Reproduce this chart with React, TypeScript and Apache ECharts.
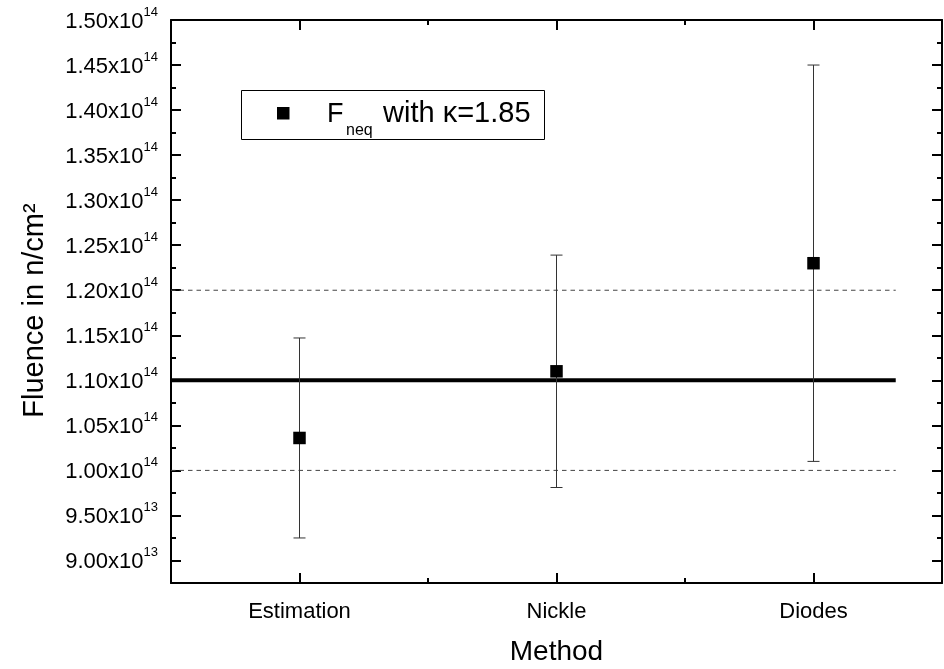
import React, { useEffect, useRef } from "react";
import * as echarts from "echarts";

// ---- data ----
const methods = ["Estimation", "Nickle", "Diodes"];
const methodPositions = [1, 2, 3];
const fluence = [1.036e14, 1.11e14, 1.23e14];
const fluenceErr = [1.11e13, 1.29e13, 2.2e13];

const refCentral = 1.1e14;
const refUpper = 1.2e14;
const refLower = 1.0e14;
const refSpan = [0.5, 3.32];

const yMajorTicks = [9.0e13, 9.5e13, 1.0e14, 1.05e14, 1.1e14, 1.15e14, 1.2e14, 1.25e14, 1.3e14, 1.35e14, 1.4e14, 1.45e14, 1.5e14];
const yMinorTicks = [9.25e13, 9.75e13, 1.025e14, 1.075e14, 1.125e14, 1.175e14, 1.225e14, 1.275e14, 1.325e14, 1.375e14, 1.425e14, 1.475e14];
const xMajorTicks = [1, 2, 3];
const xMinorTicks = [1.5, 2.5];
const xRange = [0.5, 3.5];
const yRange = [8.75e13, 1.5e14];

const FONT = "'Liberation Sans', Arial, Helvetica, sans-serif";

function sciLabel(v: number): string {
  const e = Math.floor(Math.log10(v) + 1e-9);
  const m = (v / Math.pow(10, e)).toFixed(2);
  return `{m|${m}x10}{s|${e}}`;
}

export default function App() {
  const ref = useRef<HTMLDivElement>(null);
  useEffect(() => {
    if (!ref.current) return;
    const chart = echarts.init(ref.current, null, { renderer: "svg" });

    const axisLineStyle = { color: "#000", width: 2 };
    const baseX = {
      type: "value",
      min: xRange[0],
      max: xRange[1],
      splitLine: { show: false },
    };
    const baseY = {
      type: "value",
      min: yRange[0],
      max: yRange[1],
      splitLine: { show: false },
    };

    const points = methodPositions.map((x, i) => [x, fluence[i]]);
    const errs = methodPositions.map((x, i) => [x, fluence[i] - fluenceErr[i], fluence[i] + fluenceErr[i]]);

    chart.setOption({
      animation: false,
      textStyle: { fontFamily: FONT },
      grid: { left: 171, top: 20, right: 2, bottom: 78, containLabel: false },
      xAxis: [
        {
          ...baseX,
          position: "bottom",
          name: "Method",
          nameLocation: "middle",
          nameGap: 53,
          nameTextStyle: { fontSize: 28, color: "#000", fontFamily: FONT },
          axisLine: { show: true, lineStyle: axisLineStyle },
          axisTick: { show: true, inside: true, length: 10, lineStyle: { color: "#000", width: 2 }, customValues: xMajorTicks },
          axisLabel: {
            show: true,
            margin: 16,
            fontSize: 22,
            color: "#000",
            fontFamily: FONT,
            customValues: xMajorTicks,
            formatter: (v: number) => methods[methodPositions.indexOf(Math.round(v))] ?? "",
          },
        },
        {
          ...baseX,
          position: "bottom",
          axisLine: { show: false },
          axisTick: { show: true, inside: true, length: 5, lineStyle: { color: "#000", width: 2 }, customValues: xMinorTicks },
          axisLabel: { show: false },
        },
        {
          ...baseX,
          position: "top",
          axisLine: { show: true, lineStyle: axisLineStyle },
          axisTick: { show: true, inside: true, length: 10, lineStyle: { color: "#000", width: 2 }, customValues: xMajorTicks },
          axisLabel: { show: false },
        },
        {
          ...baseX,
          position: "top",
          axisLine: { show: false },
          axisTick: { show: true, inside: true, length: 5, lineStyle: { color: "#000", width: 2 }, customValues: xMinorTicks },
          axisLabel: { show: false },
        },
      ],
      yAxis: [
        {
          ...baseY,
          position: "left",
          name: "Fluence in n/cm²",
          nameLocation: "middle",
          nameGap: 124,
          nameRotate: 90,
          nameTextStyle: { fontSize: 29, color: "#000", fontFamily: FONT, padding: [0, 18, 0, 0] },
          axisLine: { show: true, lineStyle: axisLineStyle },
          axisTick: { show: true, inside: true, length: 10, lineStyle: { color: "#000", width: 2 }, customValues: yMajorTicks },
          axisLabel: {
            show: true,
            margin: 13,
            color: "#000",
            fontFamily: FONT,
            customValues: yMajorTicks,
            formatter: (v: number) => sciLabel(v),
            rich: {
              m: { fontSize: 22, color: "#000", fontFamily: FONT, lineHeight: 30 },
              s: { fontSize: 13, color: "#000", fontFamily: FONT, lineHeight: 14, verticalAlign: "top" },
            },
          },
        },
        {
          ...baseY,
          position: "left",
          axisLine: { show: false },
          axisTick: { show: true, inside: true, length: 5, lineStyle: { color: "#000", width: 2 }, customValues: yMinorTicks },
          axisLabel: { show: false },
        },
        {
          ...baseY,
          position: "right",
          axisLine: { show: true, lineStyle: axisLineStyle },
          axisTick: { show: true, inside: true, length: 10, lineStyle: { color: "#000", width: 2 }, customValues: yMajorTicks },
          axisLabel: { show: false },
        },
        {
          ...baseY,
          position: "right",
          axisLine: { show: false },
          axisTick: { show: true, inside: true, length: 5, lineStyle: { color: "#000", width: 2 }, customValues: yMinorTicks },
          axisLabel: { show: false },
        },
      ],
      series: [
        {
          type: "line",
          name: "central",
          xAxisIndex: 0,
          yAxisIndex: 0,
          data: refSpan.map((x) => [x, refCentral]),
          symbol: "none",
          lineStyle: { color: "#000", width: 4 },
          z: 1,
        },
        {
          type: "line",
          name: "upper",
          xAxisIndex: 0,
          yAxisIndex: 0,
          data: refSpan.map((x) => [x, refUpper]),
          symbol: "none",
          lineStyle: { color: "#444", width: 1, type: [4.5, 4] },
          z: 1,
        },
        {
          type: "line",
          name: "lower",
          xAxisIndex: 0,
          yAxisIndex: 0,
          data: refSpan.map((x) => [x, refLower]),
          symbol: "none",
          lineStyle: { color: "#444", width: 1, type: [4.5, 4] },
          z: 1,
        },
        {
          type: "custom",
          name: "errors",
          xAxisIndex: 0,
          yAxisIndex: 0,
          data: errs,
          z: 2,
          renderItem: (_params: any, api: any) => {
            const x = api.value(0);
            const lo = api.coord([x, api.value(1)]);
            const hi = api.coord([x, api.value(2)]);
            const hw = 6;
            const st = { stroke: "#333", lineWidth: 1 };
            return {
              type: "group",
              children: [
                { type: "line", shape: { x1: hi[0], y1: hi[1], x2: lo[0], y2: lo[1] }, style: st },
                { type: "line", shape: { x1: hi[0] - hw, y1: hi[1], x2: hi[0] + hw, y2: hi[1] }, style: st },
                { type: "line", shape: { x1: lo[0] - hw, y1: lo[1], x2: lo[0] + hw, y2: lo[1] }, style: st },
              ],
            };
          },
        },
        {
          type: "scatter",
          name: "Fneq with κ=1.85",
          xAxisIndex: 0,
          yAxisIndex: 0,
          data: points,
          symbol: "rect",
          symbolSize: 12.5,
          itemStyle: { color: "#000", opacity: 1 },
          z: 3,
        },
      ],
      graphic: [
        {
          type: "group",
          left: 241,
          top: 90,
          children: [
            { type: "rect", shape: { x: 0.5, y: 0.5, width: 303, height: 49 }, style: { fill: "#fff", stroke: "#000", lineWidth: 1 } },
            { type: "rect", shape: { x: 36, y: 17, width: 12.5, height: 12.5 }, style: { fill: "#000" } },
            { type: "text", x: 86, y: 22.7, style: { text: "F", fontSize: 27, fontFamily: FONT, fill: "#000", verticalAlign: "middle" } },
            { type: "text", x: 105, y: 39.5, style: { text: "neq", fontSize: 16, fontFamily: FONT, fill: "#000", verticalAlign: "middle" } },
            { type: "text", x: 142, y: 22.2, style: { text: "with κ=1.85", fontSize: 29, fontFamily: FONT, fill: "#000", verticalAlign: "middle" } },
          ],
        },
      ],
    });
    return () => chart.dispose();
  }, []);
  return <div ref={ref} style={{ position: "fixed", left: 0, top: 0, width: 944, height: 669 }} />;
}
